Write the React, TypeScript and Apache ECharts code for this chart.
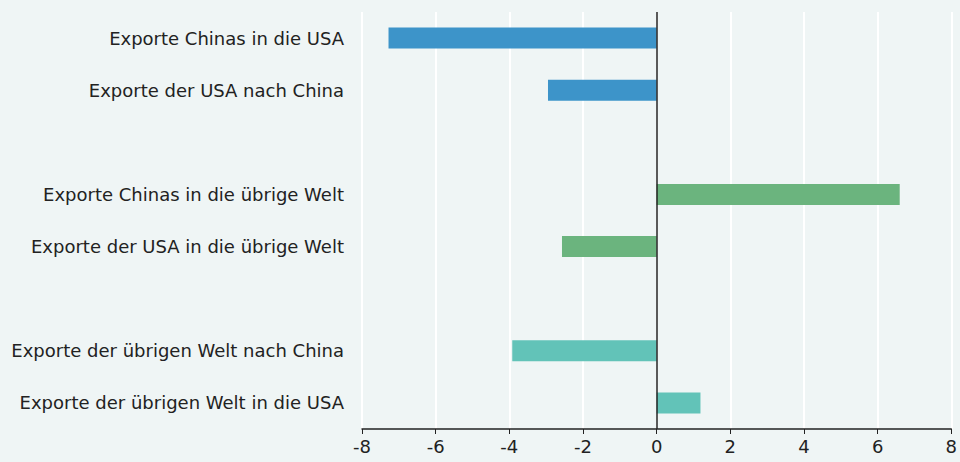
import React, { useEffect, useRef } from "react";
import * as echarts from "echarts";

const categories = [
  "Exporte Chinas in die USA",
  "Exporte der USA nach China",
  " ",
  "Exporte Chinas in die übrige Welt",
  "Exporte der USA in die übrige Welt",
  "  ",
  "Exporte der übrigen Welt nach China",
  "Exporte der übrigen Welt in die USA",
];
const values: (number | null)[] = [-7.28, -2.95, null, 6.6, -2.57, null, -3.92, 1.19];
const barColors = ["#3d94c9", "#3d94c9", "#000", "#6bb47e", "#6bb47e", "#000", "#62c3b8", "#62c3b8"];
const xTicks = { min: -8, max: 8, interval: 2 };

export default function App() {
  const ref = useRef<HTMLDivElement>(null);
  useEffect(() => {
    const chart = echarts.init(ref.current!, undefined, { renderer: "svg" });
    const font = "'DejaVu Sans', sans-serif";
    chart.setOption({
      animation: false,
      backgroundColor: "#eff5f5",
      grid: { left: 362, right: 6, top: 12, bottom: 33 },
      xAxis: {
        type: "value",
        min: xTicks.min,
        max: xTicks.max,
        interval: xTicks.interval,
        axisLine: { show: true, onZero: false, lineStyle: { color: "#222", width: 1.5 } },
        axisTick: { show: true, length: 5, lineStyle: { color: "#222" } },
        axisLabel: { color: "#222", fontSize: 18, fontFamily: font, margin: 8 },
        splitLine: { show: true, lineStyle: { color: "#ffffff", width: 2 } },
      },
      yAxis: {
        type: "category",
        data: categories,
        inverse: true,
        axisLine: { show: false },
        axisTick: { show: false },
        axisLabel: { color: "#222", fontSize: 18, fontFamily: font, margin: 18 },
        splitLine: { show: false },
      },
      series: [
        {
          type: "bar",
          barWidth: 21,
          data: values.map((v, i) => ({ value: v, itemStyle: { color: barColors[i] } })),
          markLine: {
            silent: true,
            symbol: "none",
            label: { show: false },
            lineStyle: { color: "#222", width: 1.5, type: "solid" },
            data: [{ xAxis: 0 }],
          },
        },
      ],
    });
    return () => chart.dispose();
  }, []);
  return <div ref={ref} style={{ width: 960, height: 462, position: "fixed", left: 0, top: 0 }} />;
}
